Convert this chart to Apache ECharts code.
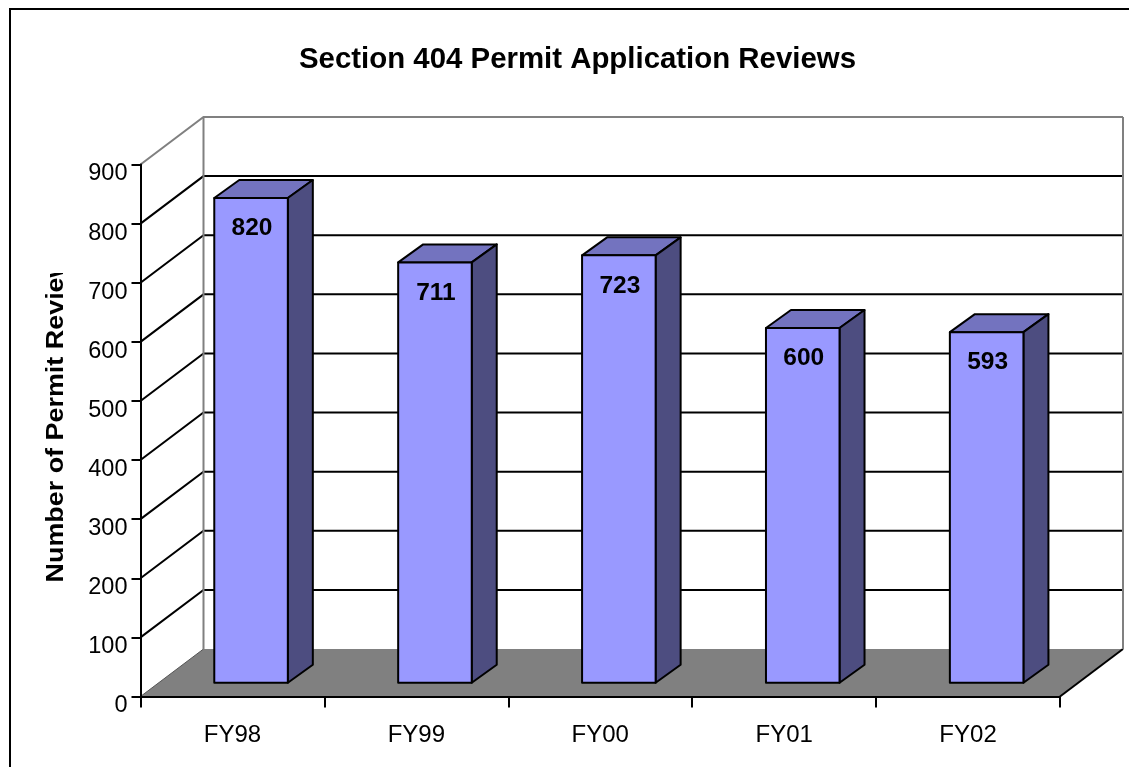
<!DOCTYPE html>
<html>
<head>
<meta charset="utf-8">
<title>Section 404 Permit Application Reviews</title>
<script src="https://cdn.jsdelivr.net/npm/echarts@6/dist/echarts.min.js"></script>
<style>
  html, body { margin: 0; padding: 0; background: #fff; overflow: hidden; }
  #chart { width: 1129px; height: 767px; }
</style>
</head>
<body>
<div id="chart"></div>
<script>
const categories = ['FY98', 'FY99', 'FY00', 'FY01', 'FY02'];
const reviews = [820, 711, 723, 600, 593];
const yTicks = [0, 100, 200, 300, 400, 500, 600, 700, 800, 900];

const FONT = '"Liberation Sans", Arial, sans-serif';
// fake 3D offsets, in pixels
const WALL_DX = 63, WALL_DY = -47.5;
const BAR_DX = 18.6, BAR_DY = -13.8;
const DEPTH_DX = 25, DEPTH_DY = -18;

const chart = echarts.init(document.getElementById('chart'), null, {renderer: 'canvas'});

const renderFloor = (params, api) => {
  const cs = params.coordSys;
  const y = api.coord([0, 0])[1];
  const l = cs.x, r = cs.x + cs.width;
  return {
    type: 'group',
    children: [
      {
        type: 'polygon',
        shape: {points: [[l, y], [r, y], [r + WALL_DX, y + WALL_DY], [l + WALL_DX, y + WALL_DY]]},
        style: {fill: '#808080'}
      },
      {
        type: 'line',
        shape: {x1: l, y1: y, x2: l + WALL_DX, y2: y + WALL_DY},
        style: {stroke: '#555555', lineWidth: 1}
      },
      {
        type: 'line',
        shape: {x1: r, y1: y, x2: r + WALL_DX, y2: y + WALL_DY},
        style: {stroke: '#000', lineWidth: 2}
      }
    ]
  };
};

const renderWall = (params, api) => {
  const cs = params.coordSys;
  const tick = api.value(1);
  const y = api.coord([0, tick])[1];
  const l = cs.x, r = cs.x + cs.width;
  if (tick === 0) {
    return {type: 'group', children: []};
  }
  const top = tick === yTicks[yTicks.length - 1];
  return {
    type: 'polyline',
    shape: {points: [[l, y], [l + WALL_DX, y + WALL_DY], [r + WALL_DX, y + WALL_DY]]},
    style: {stroke: top ? '#808080' : '#000', lineWidth: 2, fill: null}
  };
};

const renderWallEdges = (params, api) => {
  const cs = params.coordSys;
  const y0 = api.coord([0, 0])[1];
  const y1 = api.coord([0, yTicks[yTicks.length - 1]])[1];
  const l = cs.x + WALL_DX, r = cs.x + cs.width + WALL_DX;
  return {
    type: 'group',
    children: [l, r].map(x => ({
      type: 'line',
      shape: {x1: x, y1: y0 + WALL_DY, x2: x, y2: y1 + WALL_DY},
      style: {stroke: '#808080', lineWidth: 2}
    }))
  };
};

const renderBar = (params, api) => {
  const x = api.coord([api.value(0), 0])[0];
  const base = api.coord([api.value(0), 0])[1];
  const top = api.coord([api.value(0), api.value(1)])[1];
  const w = api.size([1, 0])[0] * 0.4;
  const l = x - w / 2 + BAR_DX, r = x + w / 2 + BAR_DX;
  const b = base + BAR_DY, t = top + BAR_DY;
  const edge = {stroke: '#000', lineWidth: 2, lineJoin: 'round'};
  return {
    type: 'group',
    children: [
      {
        type: 'polygon',
        shape: {points: [[l, t], [r, t], [r + DEPTH_DX, t + DEPTH_DY], [l + DEPTH_DX, t + DEPTH_DY]]},
        style: {fill: '#7373BF', ...edge}
      },
      {
        type: 'polygon',
        shape: {points: [[r, t], [r + DEPTH_DX, t + DEPTH_DY], [r + DEPTH_DX, b + DEPTH_DY], [r, b]]},
        style: {fill: '#4D4D80', ...edge}
      },
      {
        type: 'polygon',
        shape: {points: [[l, t], [r, t], [r, b], [l, b]]},
        style: {fill: '#9999FF', ...edge}
      },
      {
        type: 'text',
        style: {
          x: (l + r) / 2 + 1,
          y: t + 30.5,
          text: String(api.value(1)),
          fill: '#000',
          font: `bold 24.5px ${FONT}`,
          align: 'center',
          verticalAlign: 'middle'
        }
      }
    ]
  };
};

const option = {
  animation: false,
  backgroundColor: '#fff',
  textStyle: {fontFamily: FONT},
  title: {
    text: 'Section 404 Permit Application Reviews',
    left: 572.5,
    top: 40,
    textAlign: 'center',
    textStyle: {fontFamily: FONT, fontSize: 29.4, fontWeight: 'bold', color: '#000'}
  },
  grid: {left: 140.5, top: 164.5, width: 919.5, height: 532, containLabel: false},
  xAxis: {
    type: 'category',
    data: categories,
    boundaryGap: true,
    axisLine: {onZero: false, lineStyle: {color: '#000', width: 2}},
    axisTick: {show: true, alignWithLabel: false, length: 11, lineStyle: {color: '#000', width: 2}},
    axisLabel: {color: '#000', fontFamily: FONT, fontSize: 24, margin: 27},
    z: 5
  },
  yAxis: {
    type: 'value',
    min: 0,
    max: 900,
    interval: 100,
    axisLine: {show: true, lineStyle: {color: '#000', width: 2}},
    axisTick: {show: true, length: 9, lineStyle: {color: '#000', width: 2}},
    // labels sit a little below their ticks in the original
    axisLabel: {
      color: '#000',
      fontFamily: FONT,
      fontSize: 23.5,
      margin: 13,
      verticalAlign: 'top',
      lineHeight: 19
    },
    splitLine: {show: false},
    z: 5
  },
  graphic: [
    {
      type: 'rect',
      shape: {x: 10, y: 9, width: 1200, height: 900},
      style: {fill: 'none', stroke: '#000', lineWidth: 2},
      z: 0
    },
    {
      type: 'text',
      x: 57,
      y: 412,
      rotation: Math.PI / 2,
      scaleX: 1.17,
      style: {
        text: 'Number of Permit Reviews',
        fill: '#000',
        font: `bold 23px ${FONT}`,
        align: 'center',
        verticalAlign: 'middle'
      },
      z: 10
    },
    {
      // the original cuts the axis title off at the top
      type: 'rect',
      shape: {x: 40, y: 190, width: 30, height: 83},
      style: {fill: '#fff'},
      z: 11
    }
  ],
  series: [
    {
      type: 'custom',
      silent: true,
      clip: false,
      z: 1,
      renderItem: renderFloor,
      data: [[0, 0]]
    },
    {
      type: 'custom',
      silent: true,
      clip: false,
      z: 2,
      renderItem: renderWall,
      encode: {x: 0, y: 1},
      data: yTicks.map(t => [0, t])
    },
    {
      type: 'custom',
      silent: true,
      clip: false,
      z: 3,
      renderItem: renderWallEdges,
      data: [[0, 0]]
    },
    {
      type: 'custom',
      silent: true,
      clip: false,
      z: 4,
      renderItem: renderBar,
      encode: {x: 0, y: 1},
      data: reviews.map((v, i) => [i, v])
    }
  ]
};

chart.setOption(option);
</script>
</body>
</html>
